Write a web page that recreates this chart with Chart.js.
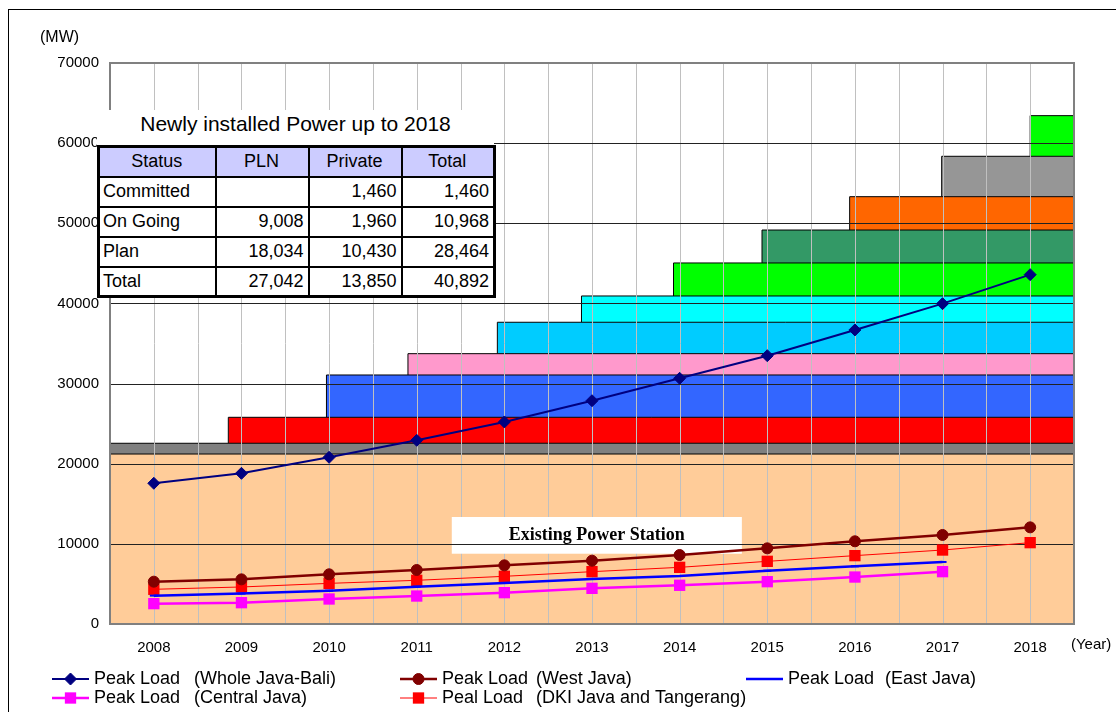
<!DOCTYPE html>
<html>
<head>
<meta charset="utf-8">
<script src="https://cdn.jsdelivr.net/npm/chart.js@4.4.1/dist/chart.umd.min.js"></script>
<style>
  html, body { margin: 0; padding: 0; background: #fff; }
  #wrap { position: relative; width: 1116px; height: 712px; overflow: hidden; }
  #chart { position: absolute; left: 0; top: 0; }
  #newly { position: absolute; left: 97px; top: 110px; width: 397px; background: #fff;
           font-family: 'Liberation Sans', Arial, sans-serif; color: #000; }
  #newly .ttl { height: 35px; line-height: 27px; font-size: 21px; text-align: center; }
  #newly table { border-collapse: collapse; width: 396px; table-layout: fixed; border: 3px solid #000; }
  #newly tr { height: 30px; }
  #newly th, #newly td { border: 2px solid #000; padding: 0 4px 0 3px; font-size: 18px;
                         font-weight: normal; text-align: right; }
  #newly th { background: #CCCCFF; text-align: center; }
  #newly td.l { text-align: left; }
</style>
</head>
<body>
<div id="wrap">
  <canvas id="chart" width="1116" height="712"></canvas>
  <div id="newly">
    <div class="ttl">Newly installed Power up to 2018</div>
    <table id="newlyTable">
      <colgroup><col style="width:117px"><col style="width:93px"><col style="width:93px"><col style="width:93px"></colgroup>
      <tbody></tbody>
    </table>
  </div>
</div>
<script>
const FONT = "'Liberation Sans', Arial, sans-serif";

// ── Data ─────────────────────────────────────────────────────────
const years = [2008, 2009, 2010, 2011, 2012, 2013, 2014, 2015, 2016, 2017, 2018];

// peak load (MW)
const wholeJavaBali = [17560, 18800, 20800, 22920, 25210, 27860, 30660, 33480, 36690, 39970, 43590];
const westJava      = [5280, 5570, 6200, 6740, 7320, 7900, 8610, 9440, 10320, 11110, 12060];
const eastJava      = [3540, 3800, 4160, 4660, 5120, 5620, 5990, 6650, 7200, 7740, null];
const centralJava   = [2540, 2660, 3120, 3490, 3910, 4450, 4830, 5280, 5860, 6530, null];
const dkiTangerang  = [4330, 4620, 5070, 5450, 5950, 6530, 7070, 7820, 8530, 9230, 10150];

const seriesNames = ['Peak Load', 'Peak Load', 'Peak Load', 'Peak Load', 'Peal Load'];
const seriesAreas = ['(Whole Java-Bali)', '(West Java)', '(East Java)', '(Central Java)', '(DKI Java and Tangerang)'];

// installed capacity, cumulative top of each block (MW) and year it comes in
const bandTops   = [21210, 22550, 25790, 31070, 33730, 37650, 40930, 45050, 49160, 53320, 58360, 63430];
const bandStarts = [2007.5, 2007.5, 2008.85, 2009.97, 2010.9, 2011.92, 2012.88, 2013.93, 2014.94, 2015.94, 2016.99, 2018.0];
const bandColors = ['#FFCC99', '#808080', '#FF0000', '#3366FF', '#FF99CC', '#00CCFF', '#00FFFF',
                    '#00FF00', '#339966', '#FF6600', '#969696', '#00FF00'];

// table
const tableHead     = ['Status', 'PLN', 'Private', 'Total'];
const statusRows    = ['Committed', 'On Going', 'Plan', 'Total'];
const plnValues     = [null, 9008, 18034, 27042];
const privateValues = [1460, 1960, 10430, 13850];
const totalValues   = [1460, 10968, 28464, 40892];

const xMin = 2007.5, xMax = 2018.5;

// ── Table ────────────────────────────────────────────────────────
const fmt = v => v == null ? '' : v.toLocaleString('en-US');
let rows = '<tr>' + tableHead.map(h => `<th>${h}</th>`).join('') + '</tr>';
statusRows.forEach((s, i) => {
  rows += `<tr><td class="l">${s}</td><td>${fmt(plnValues[i])}</td><td>${fmt(privateValues[i])}</td><td>${fmt(totalValues[i])}</td></tr>`;
});
document.querySelector('#newlyTable tbody').innerHTML = rows;

// ── Datasets ─────────────────────────────────────────────────────
const toPoints = arr => years.map((yr, i) => ({ x: yr, y: arr[i] })).filter(p => p.y != null);

const bandSets = bandTops.map((top, i) => {
  const bottom = i ? bandTops[i - 1] : 0;
  return {
    data: [{ x: bandStarts[i], y: bottom }, { x: bandStarts[i], y: top }, { x: xMax, y: top }],
    borderColor: '#000',
    borderWidth: 1,
    backgroundColor: bandColors[i],
    fill: { value: bottom },
    pointRadius: 0,
    tension: 0,
    order: 10,
  };
});

const loadSets = [
  { data: toPoints(wholeJavaBali), borderColor: '#000080', backgroundColor: '#000080', borderWidth: 2,
    pointStyle: 'rectRot', pointRadius: 6, pointBorderWidth: 1 },
  { data: toPoints(westJava), borderColor: '#800000', backgroundColor: '#800000', borderWidth: 2.5,
    pointStyle: 'circle', pointRadius: 5.5, pointBorderWidth: 1 },
  { data: toPoints(eastJava), borderColor: '#0000FF', backgroundColor: '#0000FF', borderWidth: 2.5,
    pointStyle: 'line', pointRadius: 4, pointBorderWidth: 2 },
  { data: toPoints(centralJava), borderColor: '#FF00FF', backgroundColor: '#FF00FF', borderWidth: 2.5,
    pointStyle: 'rect', pointRadius: 8, pointBorderWidth: 0 },
  { data: toPoints(dkiTangerang), borderColor: '#FF0000', backgroundColor: '#FF0000', borderWidth: 1,
    pointStyle: 'rect', pointRadius: 8, pointBorderWidth: 0 },
].map((d, i) => Object.assign(d, { isLoad: true, fill: false, tension: 0, order: i, label: seriesNames[i] }));

// ── Grid / labels / legend ───────────────────────────────────────
const existingLabel = 'Existing Power Station';
const existingBox = { x0: 2011.4, x1: 2014.71, y0: 8770, y1: 13350 };

function drawGrid(chart) {
  const { ctx, chartArea: a, scales: { x, y } } = chart;
  ctx.save();
  ctx.lineWidth = 1;
  ctx.strokeStyle = '#C0C0C0';
  years.forEach(yr => {
    [yr, yr + 0.5].forEach(v => {
      if (v >= xMax) return;
      const px = Math.round(x.getPixelForValue(v)) + 0.5;
      ctx.beginPath(); ctx.moveTo(px, a.top); ctx.lineTo(px, a.bottom); ctx.stroke();
    });
  });

  // label box for the existing stations
  const bx0 = x.getPixelForValue(existingBox.x0), bx1 = x.getPixelForValue(existingBox.x1);
  const by0 = y.getPixelForValue(existingBox.y1), by1 = y.getPixelForValue(existingBox.y0);
  ctx.fillStyle = '#fff';
  ctx.fillRect(bx0, by0, bx1 - bx0, by1 - by0);
  ctx.fillStyle = '#000';
  ctx.font = "bold 18px 'Liberation Serif', 'Times New Roman', serif";
  ctx.textAlign = 'center';
  ctx.textBaseline = 'middle';
  ctx.fillText(existingLabel, (bx0 + bx1) / 2, (by0 + by1) / 2);

  ctx.strokeStyle = '#222';
  y.ticks.forEach(t => {
    if (t.value <= y.min || t.value >= y.max) return;
    const py = Math.round(y.getPixelForValue(t.value)) + 0.5;
    ctx.beginPath(); ctx.moveTo(a.left, py); ctx.lineTo(a.right, py); ctx.stroke();
  });
  ctx.restore();
}

const legendSlots = [
  { x: 52, y: 679, x2: 194 }, { x: 400, y: 679, x2: 536 }, { x: 746, y: 679, x2: 885 },
  { x: 52, y: 698, x2: 194 }, { x: 400, y: 698, x2: 536 },
];

const overlay = {
  id: 'overlay',
  beforeDraw(chart) {
    const { ctx } = chart;
    ctx.save();
    ctx.fillStyle = '#fff';
    ctx.fillRect(0, 0, chart.width, chart.height);
    ctx.restore();
  },
  beforeDatasetsDraw(chart) { chart.$gridDone = false; },
  beforeDatasetDraw(chart, args) {
    if (chart.$gridDone || !chart.data.datasets[args.index].isLoad) return;
    chart.$gridDone = true;
    drawGrid(chart);
  },
  afterDraw(chart) {
    const { ctx, chartArea: a } = chart;
    ctx.save();
    // plot area border
    ctx.strokeStyle = '#808080';
    ctx.lineWidth = 2;
    ctx.strokeRect(a.left, a.top, a.right - a.left, a.bottom - a.top);
    // outer frame
    ctx.strokeStyle = '#000';
    ctx.lineWidth = 1;
    ctx.strokeRect(8.5, 9.5, 1200, 800);

    ctx.fillStyle = '#000';
    ctx.textBaseline = 'middle';
    ctx.textAlign = 'left';
    ctx.font = `16px ${FONT}`;
    ctx.fillText('(MW)', 40, 38);
    ctx.font = `15px ${FONT}`;
    ctx.fillText('(Year)', 1071, 645);

    // legend
    ctx.font = `18px ${FONT}`;
    loadSets.forEach((ds, i) => {
      const s = legendSlots[i];
      ctx.strokeStyle = ds.borderColor;
      ctx.lineWidth = ds.borderWidth;
      ctx.beginPath(); ctx.moveTo(s.x, s.y); ctx.lineTo(s.x + 37, s.y); ctx.stroke();
      ctx.fillStyle = ds.backgroundColor;
      ctx.lineWidth = ds.pointBorderWidth;
      Chart.helpers.drawPoint(ctx, { pointStyle: ds.pointStyle, radius: ds.pointRadius, rotation: 0,
                                     borderWidth: ds.pointBorderWidth }, s.x + 18.5, s.y);
      ctx.fillStyle = '#000';
      ctx.fillText(seriesNames[i], s.x + 42, s.y);
      ctx.fillText(seriesAreas[i], s.x2, s.y);
    });
    ctx.restore();
  }
};

// ── Chart ────────────────────────────────────────────────────────
new Chart(document.getElementById('chart'), {
  type: 'line',
  data: { datasets: [...bandSets, ...loadSets] },
  options: {
    responsive: false,
    animation: false,
    events: [],
    layout: { padding: { top: 63, right: 42, bottom: 0, left: 0 } },
    plugins: { legend: { display: false }, tooltip: { enabled: false } },
    scales: {
      x: {
        type: 'linear', min: xMin, max: xMax,
        grid: { display: false, drawTicks: false }, border: { display: false },
        afterBuildTicks: ax => { ax.ticks = years.map(v => ({ value: v })); },
        afterFit: ax => { ax.height = 88; },
        ticks: { color: '#000', font: { family: FONT, size: 15 }, padding: 15, maxRotation: 0,
                 autoSkip: false, callback: v => String(v) }
      },
      y: {
        min: 0, max: 70000,
        grid: { display: false, drawTicks: false }, border: { display: false },
        afterFit: ax => { ax.width = 110; },
        ticks: { stepSize: 10000, color: '#000', font: { family: FONT, size: 15 }, padding: 11,
                 callback: v => String(v) }
      }
    }
  },
  plugins: [overlay]
});
</script>
</body>
</html>
